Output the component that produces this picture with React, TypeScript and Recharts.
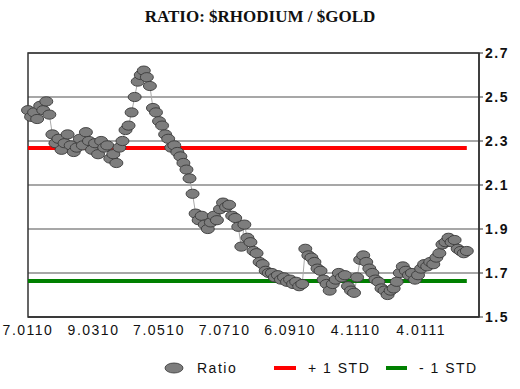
import { ComposedChart, Line, XAxis, YAxis, CartesianGrid, Legend, ReferenceArea } from "recharts";

// ratio, sampled every 2 trading days (day index = i * STEP)
const STEP = 2;
const RATIO = [
  2.44, 2.41, 2.43, 2.40, 2.46, 2.44, 2.48, 2.42,
  2.33, 2.29, 2.31, 2.26, 2.29, 2.33, 2.28, 2.25, 2.27, 2.31, 2.28, 2.34,
  2.30, 2.26, 2.29, 2.24, 2.30, 2.27, 2.28, 2.22, 2.24, 2.20,
  2.27, 2.30, 2.35, 2.37, 2.43, 2.50, 2.57, 2.60, 2.62, 2.59,
  2.55, 2.45, 2.43, 2.39, 2.37, 2.33, 2.31, 2.27, 2.28, 2.25,
  2.23, 2.20, 2.17, 2.13, 2.06, 1.97, 1.94, 1.96, 1.92, 1.90,
  1.93, 1.96, 1.94, 1.99, 2.02, 2.00, 2.01, 1.96, 1.95, 1.91,
  1.82, 1.92, 1.86, 1.84, 1.80, 1.79, 1.75, 1.74, 1.71, 1.70,
  1.70, 1.68, 1.69, 1.67, 1.68, 1.66, 1.67, 1.65, 1.66, 1.64,
  1.65, 1.81, 1.78, 1.77, 1.75, 1.72, 1.71, 1.67, 1.65, 1.62,
  1.65, 1.67, 1.70, 1.68, 1.69, 1.64, 1.62, 1.61, 1.68, 1.76,
  1.78, 1.75, 1.72, 1.70, 1.67, 1.66, 1.63, 1.62, 1.60, 1.62,
  1.63, 1.66, 1.70, 1.73, 1.71, 1.69, 1.70, 1.67, 1.69, 1.72,
  1.74, 1.73, 1.75, 1.74, 1.77, 1.79, 1.83, 1.84, 1.86, 1.84,
  1.85, 1.81, 1.80, 1.79, 1.80,
];
const PLUS_STD = 2.268;
const MINUS_STD = 1.664;

const X_TICKS = [0, 43, 86, 129, 172, 215, 258];
const X_LABELS = ["7.0110", "9.0310", "7.0510", "7.0710", "6.0910", "4.1110", "4.0111"];
const Y_TICKS = [1.5, 1.7, 1.9, 2.1, 2.3, 2.5, 2.7];

const data = RATIO.map((v, i) => ({ x: i * STEP, ratio: v, up: PLUS_STD, dn: MINUS_STD }));

const FONT = 'Arial, "Liberation Sans", sans-serif';

function RatioDot(props: any) {
  const { cx, cy, index } = props;
  return <ellipse key={`d${index}`} cx={cx} cy={cy} rx={6.5} ry={4.6} fill="#7d7d7d" stroke="#3a3a3a" strokeWidth={0.9} />;
}

function LegendBox() {
  const txt = { position: "absolute" as const, top: 0, fontSize: 14, letterSpacing: 1.5, color: "#111", fontFamily: FONT, lineHeight: "20px" };
  return (
    <div style={{ position: "relative", width: 520, height: 20 }}>
      <svg width={520} height={20} style={{ position: "absolute", left: 0, top: 0 }}>
        <ellipse cx={174} cy={10} rx={9} ry={5} fill="#7d7d7d" stroke="#333" strokeWidth={0.8} />
        <line x1={274} x2={296} y1={10} y2={10} stroke="#ff0000" strokeWidth={4} />
        <line x1={386} x2={407} y1={10} y2={10} stroke="#008000" strokeWidth={4} />
      </svg>
      <span style={{ ...txt, left: 197 }}>Ratio</span>
      <span style={{ ...txt, left: 308 }}>+ 1 STD</span>
      <span style={{ ...txt, left: 419 }}>- 1 STD</span>
    </div>
  );
}

export default function App() {
  return (
    <div style={{ position: "absolute", left: 0, top: 0, width: 520, height: 389, background: "#fff", fontFamily: FONT }}>
      <div style={{ position: "absolute", top: 7, left: 0, width: 520, textAlign: "center", fontFamily: '"Times New Roman", "Liberation Serif", serif', fontWeight: "bold", fontSize: 17, color: "#111" }}>
        RATIO: $RHODIUM / $GOLD
      </div>
      <ComposedChart width={520} height={389} data={data} margin={{ top: 53, right: 0, bottom: 42, left: 28 }}>
        <CartesianGrid vertical={false} stroke="#8a8a8a" strokeWidth={1.5} />
        <XAxis
          dataKey="x"
          type="number"
          domain={[0, 296]}
          ticks={X_TICKS}
          tickFormatter={(v) => X_LABELS[X_TICKS.indexOf(v)] ?? ""}
          tickLine={false}
          axisLine={{ stroke: "#333", strokeWidth: 1.5 }}
          tick={{ fontSize: 14, fill: "#111", letterSpacing: 1.5, fontFamily: FONT }}
          tickMargin={2}
          height={30}
          interval={0}
        />
        <YAxis
          orientation="right"
          domain={[1.5, 2.7]}
          ticks={Y_TICKS}
          tickFormatter={(v) => Number(v).toFixed(1)}
          tickLine={{ stroke: "#333" }}
          tickSize={4}
          axisLine={{ stroke: "#333", strokeWidth: 1.5 }}
          tick={{ fontSize: 14, fontWeight: "bold", fill: "#111", letterSpacing: 1.5, fontFamily: FONT }}
          width={41}
          interval={0}
        />
        <ReferenceArea x1={0} x2={296} y1={1.5} y2={2.7} fill="none" stroke="#333" strokeWidth={1.5} />
        <Line dataKey="ratio" name="Ratio" stroke="#aaa" strokeWidth={1} dot={RatioDot} activeDot={false} isAnimationActive={false} />
        <Line dataKey="up" name="+ 1 STD" stroke="#ff0000" strokeWidth={4} dot={false} activeDot={false} isAnimationActive={false} />
        <Line dataKey="dn" name="- 1 STD" stroke="#008000" strokeWidth={4} dot={false} activeDot={false} isAnimationActive={false} />
        <Legend layout="horizontal" verticalAlign="middle" align="center" content={() => <LegendBox />} wrapperStyle={{ top: 358, left: 0, width: 520 }} />
      </ComposedChart>
    </div>
  );
}
